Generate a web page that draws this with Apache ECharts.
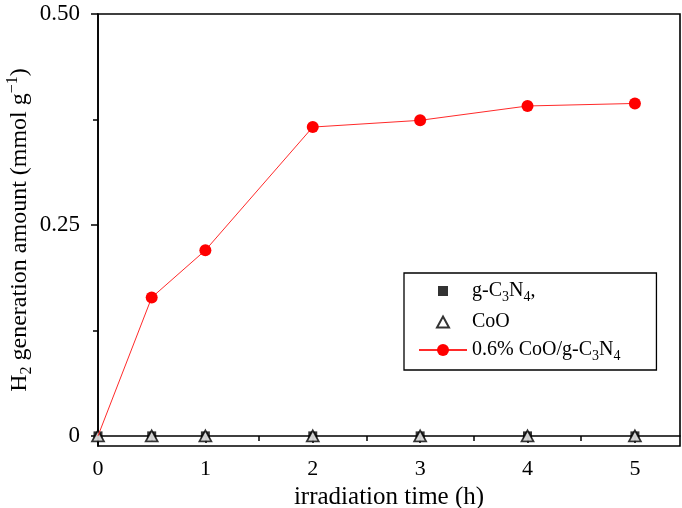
<!DOCTYPE html>
<html>
<head>
<meta charset="utf-8">
<script src="https://cdn.jsdelivr.net/npm/echarts@6/dist/echarts.min.js"></script>
<style>html,body{margin:0;padding:0;background:#fff}#c{width:682px;height:508px}</style>
</head>
<body>
<div id="c"></div>
<script>
const timeH = [0, 0.5, 1, 2, 3, 4, 5];
const gC3N4 = [0, 0, 0, 0, 0, 0, 0];
const coO = [0, 0, 0, 0, 0, 0, 0];
const coOgC3N4 = [0, 0.164, 0.220, 0.366, 0.374, 0.391, 0.394];
const xTicks = [0, 1, 2, 3, 4, 5];
const xMinorTicks = [0.5, 1.5, 2.5, 3.5, 4.5];
const yTicks = [0, 0.25, 0.5];
const yTickLabels = ['0', '0.25', '0.50'];
const yMinorTicks = [0.125, 0.375];
const seriesNames = ['g-C3N4,', 'CoO', '0.6% CoO/g-C3N4'];

const FONT = "'Liberation Serif', 'Times New Roman', serif";
const pair = (ys) => timeH.map((t, i) => [t, ys[i]]);

const legendRich = {
  t: { fontFamily: FONT, fontSize: 20, color: '#000', lineHeight: 26 },
  s: { fontFamily: FONT, fontSize: 14, color: '#000', lineHeight: 12, verticalAlign: 'bottom' }
};
const legendFmt = {
  'g-C3N4,': '{t|g-C}{s|3}{t|N}{s|4}{t|,}',
  'CoO': '{t|CoO}',
  '0.6% CoO/g-C3N4': '{t|0.6% CoO/g-C}{s|3}{t|N}{s|4}'
};
// legend icons: invisible corner moves keep the icon box 48x15 so the glyph keeps its size
const squareIcon = 'path://M0,0 M48,15 M19,2.5 L29,2.5 L29,12.5 L19,12.5 Z';
const triangleIcon = 'path://M0,0 M48,15 M24,2 L30,13 L18,13 Z';

const chart = echarts.init(document.getElementById('c'), null, { renderer: 'canvas' });
const axisLine = { lineStyle: { color: '#000', width: 1.6 } };
chart.setOption({
  animation: false,
  backgroundColor: '#fff',
  grid: { left: 98, right: 2, top: 14, bottom: 62, outerBoundsMode: 'none', containLabel: false,
    show: true, borderColor: '#000', borderWidth: 1.6, backgroundColor: 'transparent' },
  xAxis: [{
    type: 'value', min: 0, max: 5.42,
    axisLine: axisLine,
    axisTick: { customValues: xTicks, length: 7, lineStyle: { color: '#000', width: 1.5 } },
    axisLabel: { customValues: xTicks, fontFamily: FONT, fontSize: 22, color: '#000', margin: 12 },
    splitLine: { show: false },
    name: 'irradiation time (h)', nameLocation: 'middle', nameGap: 33,
    nameTextStyle: { fontFamily: FONT, fontSize: 25, color: '#000' }
  }, {
    type: 'value', min: 0, max: 5.42, position: 'bottom',
    axisLine: { show: false },
    axisTick: { customValues: xMinorTicks, length: 5, lineStyle: { color: '#000', width: 1.5 } },
    axisLabel: { show: false }, splitLine: { show: false }
  }],
  yAxis: [{
    type: 'value', min: -0.012, max: 0.5,
    axisLine: axisLine,
    axisTick: { customValues: yTicks, length: 7, lineStyle: { color: '#000', width: 1.5 } },
    axisLabel: { customValues: yTicks, fontFamily: FONT, fontSize: 23, color: '#000', margin: 18,
      formatter: (v) => yTickLabels[yTicks.indexOf(v)] ?? String(v) },
    splitLine: { show: false },
    name: '{a|H}{sub|2}{a| generation amount (mmol g}{sup|−1}{a|)}',
    nameLocation: 'middle', nameRotate: 90, nameGap: 63, nameMoveOverlap: false,
    nameTextStyle: {
      rich: {
        a: { fontFamily: FONT, fontSize: 24, color: '#000', lineHeight: 30 },
        sub: { fontFamily: FONT, fontSize: 16, color: '#000', lineHeight: 14, verticalAlign: 'bottom' },
        sup: { fontFamily: FONT, fontSize: 16, color: '#000', lineHeight: 14, verticalAlign: 'top' }
      }
    }
  }, {
    type: 'value', min: -0.012, max: 0.5, position: 'left',
    axisLine: { show: false },
    axisTick: { customValues: yMinorTicks, length: 5, lineStyle: { color: '#000', width: 1.5 } },
    axisLabel: { show: false }, splitLine: { show: false }
  }],
  legend: {
    orient: 'vertical', left: 404, top: 273,
    padding: [8, 36, 7, 14],
    itemGap: 8, itemWidth: 48, itemHeight: 15,
    borderColor: '#000', borderWidth: 1.3,
    data: [
      { name: seriesNames[0], icon: squareIcon },
      { name: seriesNames[1], icon: triangleIcon },
      { name: seriesNames[2] }
    ],
    formatter: (n) => legendFmt[n] || n,
    textStyle: { rich: legendRich, fontFamily: FONT, fontSize: 20, color: '#000' }
  },
  series: [{
    name: seriesNames[0], type: 'scatter', data: pair(gC3N4),
    symbol: 'rect', symbolSize: 9, itemStyle: { color: '#000' }, z: 2
  }, {
    name: seriesNames[1], type: 'scatter', data: pair(coO),
    symbol: 'triangle', symbolSize: [12, 11],
    itemStyle: { color: '#fff', borderColor: '#000', borderWidth: 1.7 }, z: 3
  }, {
    name: seriesNames[2], type: 'line', data: pair(coOgC3N4),
    symbol: 'circle',
    symbolSize: (v, p) => (p.dataIndex === 0 ? 0 : 12),
    lineStyle: { color: '#ff2a2a', width: 1 },
    itemStyle: { color: '#ff0000', borderWidth: 0 }, z: 4
  }]
});
</script>
</body>
</html>
